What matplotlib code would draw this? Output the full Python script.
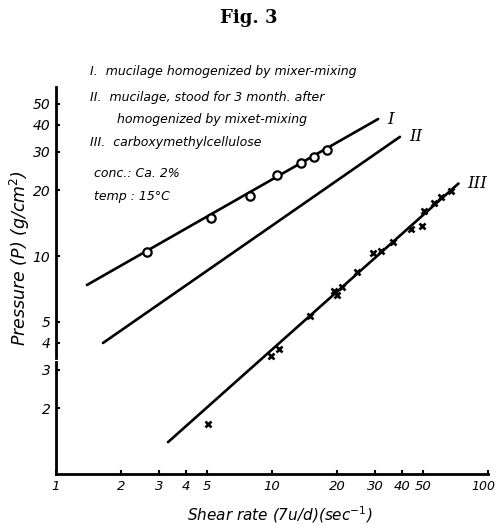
# Fig. 3 - pressure vs shear rate, log-log, mucilage and CMC

import matplotlib
matplotlib.use("Agg")
import matplotlib.pyplot as plt
from matplotlib.transforms import ScaledTranslation

W, H = 498, 524

# curve I : mucilage homogenized by mixer-mixing (open circles)
rate_1 = [2.64, 5.22, 7.91, 10.5, 13.6, 15.6, 18.0]
pres_1 = [10.4, 14.9, 18.9, 23.5, 26.7, 28.5, 30.6]

# curve III : carboxymethylcellulose (crosses)
rate_3 = [5.05, 9.9, 10.8, 15.0, 19.4, 20.0, 21.1, 24.7, 29.4, 32.0,
          36.3, 44.0, 49.5, 50.6, 56.2, 60.6, 67.4]
pres_3 = [1.70, 3.48, 3.75, 5.31, 6.91, 6.62, 7.21, 8.45, 10.3, 10.5,
          11.6, 13.3, 13.7, 16.1, 17.5, 18.7, 19.9]

# drawn straight lines (ends)
fit_1_x = [1.39, 31.0]
fit_1_y = [7.36, 42.5]
fit_2_x = [1.65, 39.1]
fit_2_y = [3.99, 35.2]
fit_3_x = [3.3, 73.0]
fit_3_y = [1.40, 21.5]

xticks = [1, 2, 3, 4, 5, 10, 20, 30, 40, 50, 100]
yticks = [2, 3, 4, 5, 10, 20, 30, 40, 50]

notes = ["I.  mucilage homogenized by mixer-mixing",
         "II.  mucilage, stood for 3 month. after",
         "homogenized by mixet-mixing",
         "III.  carboxymethylcellulose",
         "conc.: Ca. 2%",
         "temp : 15\u00b0C"]

fig = plt.figure(figsize=(W / 100, H / 100), dpi=100)
ax = fig.add_axes([56 / W, 1 - 474 / H, 432 / W, 387 / H])

ax.set_xscale("log")
ax.set_yscale("log")
ax.set_xlim(1, 100)
ax.set_ylim(1, 59.6)

lw = 1.9
ax.plot(fit_1_x, fit_1_y, color="black", lw=lw, solid_capstyle="round")
ax.plot(fit_2_x, fit_2_y, color="black", lw=lw, solid_capstyle="round")
ax.plot(fit_3_x, fit_3_y, color="black", lw=lw, solid_capstyle="round")
ax.plot(rate_1, pres_1, "o", ms=6, mfc="white", mec="black", mew=1.6)
ax.plot(rate_3, pres_3, "x", ms=5, color="black", mew=1.9)

# curve labels
ax.text(fit_1_x[1] * 1.1, fit_1_y[1], "I", family="DejaVu Serif", style="italic",
        fontsize=12, va="center", ha="left")
ax.text(fit_2_x[1] * 1.1, fit_2_y[1], "II", family="DejaVu Serif", style="italic",
        fontsize=12, va="center", ha="left")
ax.text(fit_3_x[1] * 1.1, fit_3_y[1], "III", family="DejaVu Serif", style="italic",
        fontsize=12, va="center", ha="left")

# axes frame: only left and bottom, left one broken just above 3
for s in ["top", "right", "left"]:
    ax.spines[s].set_visible(False)
ax.spines["bottom"].set_linewidth(2)
yt = ax.get_yaxis_transform()
ax.plot([0, 0], [1, 3.25], color="black", lw=2, transform=yt, clip_on=False)
ax.plot([0, 0], [3.4, 59.6], color="black", lw=2, transform=yt, clip_on=False)

ax.set_xticks(xticks)
ax.set_xticklabels([str(v) for v in xticks])
ax.set_yticks(yticks)
ax.set_yticklabels([str(v) for v in yticks])
ax.minorticks_off()
ax.tick_params(direction="in", length=3, width=1.5, labelsize=10, pad=4)
ax.tick_params(axis="x", labelsize=9.5)
for lab in ax.get_xticklabels() + ax.get_yticklabels():
    lab.set_style("italic")
last = ax.get_xticklabels()[-1]
last.set_fontsize(9)
last.set_transform(last.get_transform() + ScaledTranslation(-0.05, 0, fig.dpi_scale_trans))

# text block upper left
ys = [72, 97, 119, 143, 173, 197]
xs = [90, 90, 117, 90, 94, 94]
for t, x, y in zip(notes, xs, ys):
    fig.text(x / W, 1 - y / H, t, fontsize=9, style="italic", va="center", ha="left")

fig.text(249 / W, 1 - 18 / H, "Fig. 3", family="DejaVu Serif", weight="bold",
         fontsize=13, ha="center", va="center")
fig.text(20 / W, 1 - 258 / H, "Pressure (P) (g/cm$^2$)", rotation=90, style="italic",
         fontsize=12.5, ha="center", va="center")
fig.text(280 / W, 1 - 515 / H, "Shear rate (7u/d)(sec$^{-1}$)", style="italic",
         fontsize=11, ha="center", va="center")

fig.savefig("out.png", dpi=100)
